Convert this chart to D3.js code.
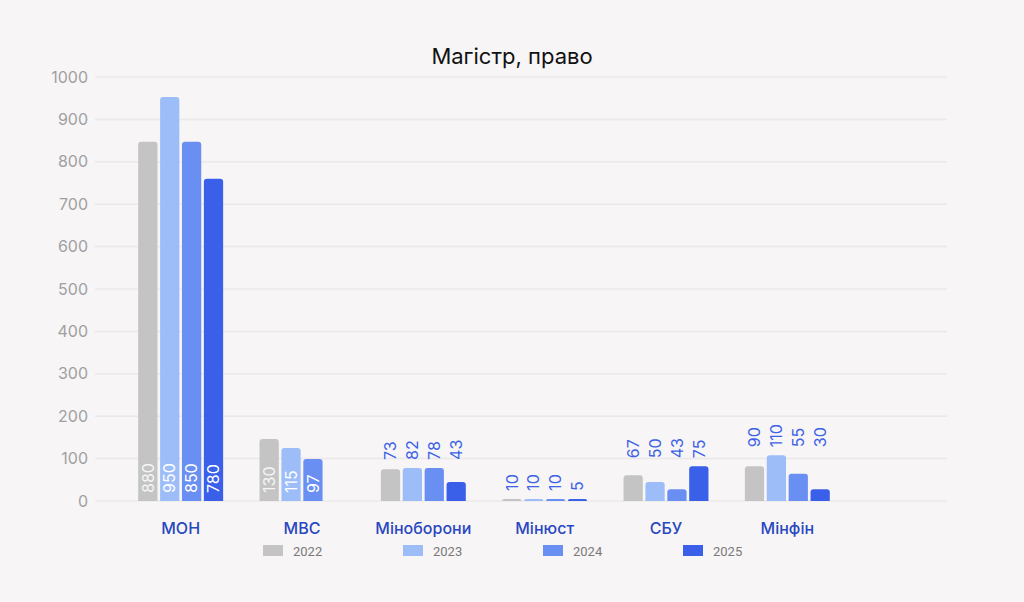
<!DOCTYPE html>
<html>
<head>
<meta charset="utf-8">
<script src="https://cdn.jsdelivr.net/npm/d3@7"></script>
<style>
  html, body { margin: 0; padding: 0; background: #f7f5f6; }
  svg { display: block; font-family: Inter, "Noto Sans", sans-serif; }
</style>
</head>
<body>
<svg id="chart" width="1024" height="602"></svg>
<script>
(function() {
    'use strict';

    var title = "Магістр, право";
    var categories = ["МОН", "МВС", "Міноборони", "Мінюст", "СБУ", "Мінфін"];
    var years = ["2022", "2023", "2024", "2025"];
    var yTicks = [0, 100, 200, 300, 400, 500, 600, 700, 800, 900, 1000];

    // bar heights as drawn in the picture
    var bars2022 = [847, 146, 75, 5, 61, 82];
    var bars2023 = [953, 125, 78, 5, 45, 108];
    var bars2024 = [847, 99, 78, 5, 28, 64];
    var bars2025 = [760, 0, 45, 5, 82, 28];

    // printed value labels
    var labels2022 = ["880", "130", "73", "10", "67", "90"];
    var labels2023 = ["950", "115", "82", "10", "50", "110"];
    var labels2024 = ["850", "97", "78", "10", "43", "55"];
    var labels2025 = ["780", "", "43", "5", "75", "30"];

    var colors = ["#c4c4c4", "#9dbdf9", "#6a8ff2", "#3a5fe8"];

    var barSeries = [bars2022, bars2023, bars2024, bars2025];
    var labelSeries = [labels2022, labels2023, labels2024, labels2025];

    var svg = d3.select("#chart");

    var x0 = d3.scaleBand().domain(categories).range([120, 848]).paddingInner(0.3).paddingOuter(0.15);
    var x1 = d3.scaleBand().domain(years).range([0, x0.bandwidth()]).paddingInner(0.12);
    var y = d3.scaleLinear().domain([0, 1000]).range([501, 77]);
    var color = d3.scaleOrdinal().domain(years).range(colors);

    svg.append("text")
        .attr("x", 512).attr("y", 64)
        .attr("text-anchor", "middle")
        .style("font-size", "22px")
        .style("fill", "#111")
        .text(title);

    // grid + tick labels
    var yAxis = svg.append("g").attr("class", "y-axis");
    yAxis.selectAll("line").data(yTicks).enter().append("line")
        .attr("x1", 95).attr("x2", 947)
        .attr("y1", function(d) { return y(d); })
        .attr("y2", function(d) { return y(d); })
        .style("stroke", "#ebe8ea").style("stroke-width", 1.5);
    yAxis.selectAll("text").data(yTicks).enter().append("text")
        .attr("x", 88)
        .attr("y", function(d) { return y(d); })
        .attr("dy", "0.35em")
        .attr("text-anchor", "end")
        .style("font-size", "16px")
        .style("fill", "#a0a0a0")
        .text(function(d) { return d; });

    function topRounded(x, yTop, w, h, r) {
        if (h <= 0) return "";
        r = Math.min(r, h, w / 2);
        return "M" + x + "," + (yTop + h) +
            "V" + (yTop + r) +
            "Q" + x + "," + yTop + " " + (x + r) + "," + yTop +
            "H" + (x + w - r) +
            "Q" + (x + w) + "," + yTop + " " + (x + w) + "," + (yTop + r) +
            "V" + (yTop + h) + "Z";
    }

    var groups = svg.selectAll("g.group")
        .data(categories)
        .enter().append("g")
        .attr("class", "group")
        .attr("transform", function(d) { return "translate(" + x0(d) + ",0)"; });

    groups.each(function(cat, ci) {
        var g = d3.select(this);
        var items = years.map(function(yr, si) {
            return { year: yr, value: barSeries[si][ci], label: labelSeries[si][ci] };
        });
        var shown = items.filter(function(d) { return d.value > 0; });
        var minH = d3.min(shown, function(d) { return y(0) - y(d.value); });
        var inside = minH > 40;
        var topY = y(d3.max(items, function(d) { return d.value; }));

        g.selectAll("path").data(items).enter().append("path")
            .attr("d", function(d) {
                return topRounded(x1(d.year), y(d.value), x1.bandwidth(), y(0) - y(d.value), 3);
            })
            .style("fill", function(d) { return color(d.year); });

        g.selectAll("text").data(items).enter().append("text")
            .attr("transform", function(d) {
                var cx = x1(d.year) + x1.bandwidth() / 2;
                var ty = inside ? y(0) - 8 : topY - 8;
                return "translate(" + cx + "," + ty + ") rotate(-90)";
            })
            .attr("dy", "0.36em")
            .attr("text-anchor", "start")
            .style("font-size", "16px")
            .style("fill", inside ? "#ffffff" : "#3d63e6")
            .style("fill-opacity", function(d) { return inside && d.year === "2022" ? 0.85 : 1; })
            .text(function(d) { return d.label; });
    });

    svg.selectAll("text.cat").data(categories).enter().append("text")
        .attr("class", "cat")
        .attr("x", function(d) { return x0(d) + x0.bandwidth() / 2; })
        .attr("y", 534)
        .attr("text-anchor", "middle")
        .style("font-size", "16px")
        .style("font-weight", 500)
        .style("fill", "#2847c0")
        .text(function(d) { return d; });

    // legend
    var lx = d3.scalePoint().domain(years).range([263, 683]);
    var legend = svg.selectAll("g.legend").data(years).enter().append("g")
        .attr("class", "legend")
        .attr("transform", function(d) { return "translate(" + lx(d) + ",545)"; });
    legend.append("rect")
        .attr("width", 20).attr("height", 11)
        .style("fill", function(d) { return color(d); });
    legend.append("text")
        .attr("x", 30).attr("y", 11)
        .style("font-family", "Roboto, sans-serif")
        .style("font-size", "13px")
        .style("fill", "#7a7a7a")
        .text(function(d) { return d; });
})();
</script>
</body>
</html>
